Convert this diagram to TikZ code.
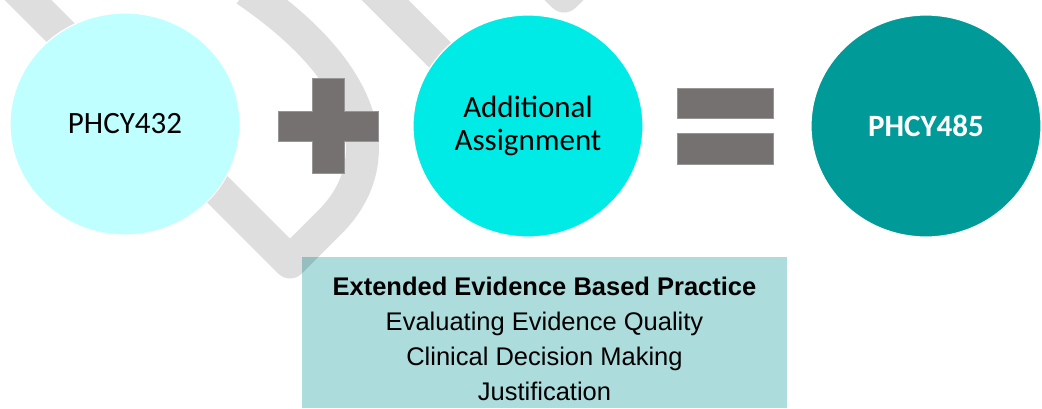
\documentclass[tikz,border=0pt]{standalone}
\usepackage{fontspec}
\setmainfont{Carlito}
\newfontfamily\boxfont{Liberation Sans}
\usetikzlibrary{shapes.geometric}

\definecolor{cyanpale}{HTML}{C0FFFF}
\definecolor{cyanmid}{HTML}{00EBE5}
\definecolor{tealdark}{HTML}{009A98}
\definecolor{signgray}{HTML}{767171}
\definecolor{boxteal}{HTML}{ACDCDC}

\tikzset{
    bubble/.style={ellipse, minimum width=230pt, minimum height=222pt, inner sep=0pt,
        draw=white, line width=1.2pt, align=center, font=\fontsize{31}{33}\selectfont},
    swoosh/.style={line width=33pt, black, opacity=0.13, line join=round},
    sign/.style={fill=signgray, draw=signgray!75!white, line width=0.6pt},
}

\begin{document}
\begin{tikzpicture}[x=1pt, y=-1pt]
    \useasboundingbox (0,0) rectangle (1042,408);

    % box:
    \node (practice) [fill=boxteal, minimum width=485pt, minimum height=151pt,
        inner sep=0pt, anchor=north west] at (302,257) {};

    % swooshes:
    \draw[swoosh] (-20,-48) -- (290,262) -- (330,222)
        .. controls (385,167) and (378,80) .. (246,-10);
    \draw[swoosh] (340,-45) -- (505,120);
    \draw[swoosh] (522,-44) -- (564,-4) -- (606,-44);

    % circles:
    \node (phcy432) [bubble, fill=cyanpale] at (125,124) {PHCY432};
    \node (extra) [bubble, fill=cyanmid] at (528,126) {Additional\\Assignment};
    \node (phcy485) [bubble, fill=tealdark, text=white] at (926,126) {\textbf{PHCY485}};

    % plus and equals:
    \draw[sign] (312,78) -- (344,78) -- (344,111) -- (378,111) -- (378,141) -- (344,141)
        -- (344,173) -- (312,173) -- (312,141) -- (278,141) -- (278,111) -- (312,111) -- cycle;
    \draw[sign] (677,88) rectangle (773,118);
    \draw[sign] (677,133) rectangle (773,164);

    % box text:
    \node (topics) [align=center, inner sep=0pt, font=\boxfont\fontsize{25.5}{35}\selectfont]
        at (544.5,339) {\textbf{Extended Evidence Based Practice}\\Evaluating Evidence Quality\\
        Clinical Decision Making\\Justification};
\end{tikzpicture}
\end{document}
